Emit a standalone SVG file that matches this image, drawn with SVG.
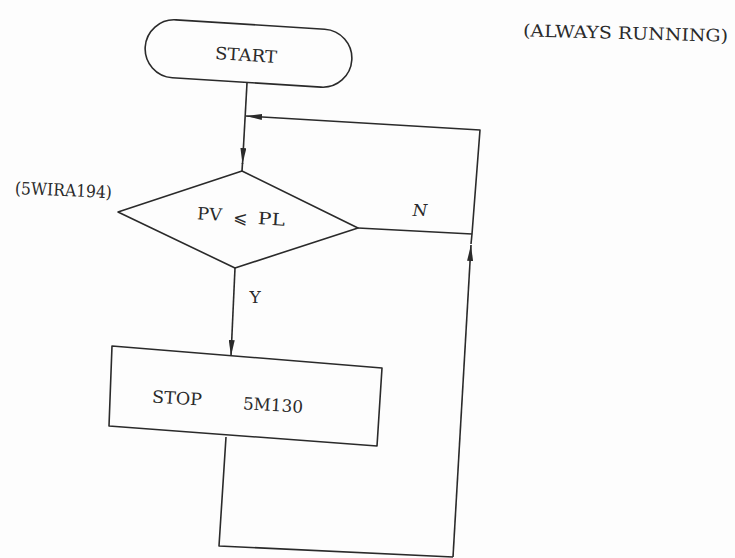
<svg xmlns="http://www.w3.org/2000/svg" width="735" height="558" viewBox="0 0 735 558">
<style>
.s{fill:none;stroke:#2a2a2a;stroke-width:1.6;stroke-linejoin:round}
.t{font-family:"DejaVu Serif","Liberation Serif",serif;fill:#2a2a2a;font-size:17px}
</style>
<defs>
<marker id="ah" viewBox="0 0 16 6" refX="16" refY="3" markerWidth="16" markerHeight="6" markerUnits="userSpaceOnUse" orient="auto">
<path d="M0,0 L16,3 L0,6 Z" fill="#2a2a2a"/>
</marker>
</defs>
<rect width="735" height="558" fill="#fdfdfd"/>
<g id="start">
<rect class="s" x="145" y="24.5" width="207" height="58" rx="29" transform="rotate(3.6 248.5 53.5)"/>
<text class="t" x="246" y="61" text-anchor="middle" textLength="62" lengthAdjust="spacingAndGlyphs" transform="rotate(3.6 246 55)">START</text>
</g>
<g id="decision">
<polygon class="s" points="242,171 358,228 235,268 118,212"/>
<g transform="rotate(3.5 240 217)">
<text class="t" x="197" y="222" textLength="25" lengthAdjust="spacingAndGlyphs">PV</text>
<text class="t" x="240" y="223" text-anchor="middle">⩽</text>
<text class="t" x="258" y="223" textLength="27" lengthAdjust="spacingAndGlyphs">PL</text>
</g>
</g>
<g id="stop">
<polygon class="s" points="112,346 382,368 377,446 109,426"/>
<text class="t" x="152" y="404" textLength="50" lengthAdjust="spacingAndGlyphs" transform="rotate(3.5 177 398)">STOP</text>
<text class="t" x="243" y="411" textLength="60" lengthAdjust="spacingAndGlyphs" transform="rotate(3.5 273 405)">5M130</text>
</g>
<g id="labels">
<text class="t" x="15" y="196" textLength="97" lengthAdjust="spacingAndGlyphs" transform="rotate(2.5 63 190)">(5WIRA194)</text>
<text class="t" x="523" y="39" textLength="205" lengthAdjust="spacingAndGlyphs" transform="rotate(1.5 625 34)">(ALWAYS RUNNING)</text>
<text class="t" x="420" y="216" text-anchor="middle" font-style="italic">N</text>
<text class="t" x="255" y="303" text-anchor="middle">Y</text>
</g>
<g id="connectors">
<line class="s" x1="247" y1="83" x2="242.5" y2="164" marker-end="url(#ah)"/>
<line class="s" x1="242.5" y1="163" x2="242" y2="171"/>
<line class="s" x1="235" y1="268" x2="231" y2="356" marker-end="url(#ah)"/>
<line class="s" x1="358" y1="228" x2="472" y2="234"/>
<polyline class="s" points="226,437 219,546 453,557"/>
<line class="s" x1="453" y1="557" x2="471" y2="245" marker-end="url(#ah)"/>
<line class="s" x1="471" y1="244" x2="472" y2="234"/>
<polyline class="s" points="472,234 480,130 246,116" marker-end="url(#ah)"/>
</g>
</svg>
